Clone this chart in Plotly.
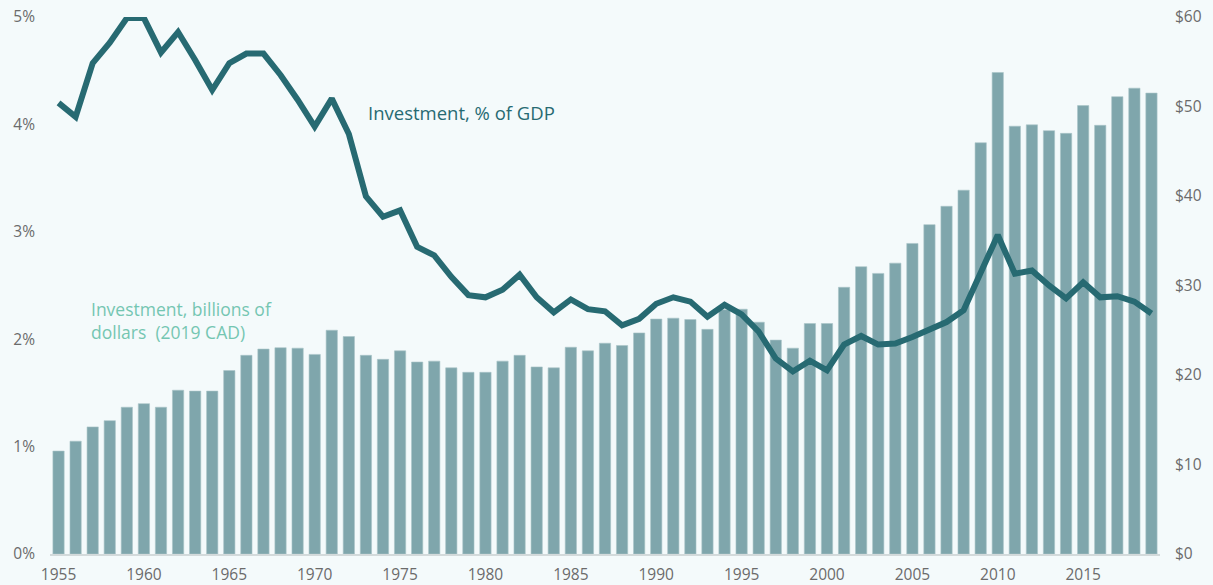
import plotly.graph_objects as go

years = list(range(1955, 2020))

invest_bn = [11.5, 12.6, 14.2, 14.9, 16.4, 16.8, 16.4, 18.3, 18.2, 18.2,
             20.5, 22.2, 22.9, 23.05, 23.0, 22.3, 25.0, 24.3, 22.2, 21.75,
             22.7, 21.45, 21.55, 20.8, 20.3, 20.3, 21.55, 22.2, 20.9, 20.8,
             23.1, 22.7, 23.55, 23.3, 24.7, 26.25, 26.35, 26.2, 25.1, 27.3,
             27.35, 25.9, 23.9, 23.0, 25.75, 25.75, 29.8, 32.1, 31.35, 32.5,
             34.7, 36.8, 38.85, 40.65, 45.95, 53.8, 47.8, 47.95, 47.3, 47.0,
             50.1, 47.9, 51.1, 52.05, 51.5]

invest_pct = [4.20, 4.07, 4.57, 4.76, 4.99, 4.99, 4.67, 4.86, 4.60, 4.32,
              4.57, 4.66, 4.66, 4.46, 4.23, 3.98, 4.24, 3.91, 3.33, 3.14,
              3.20, 2.86, 2.78, 2.58, 2.41, 2.39, 2.46, 2.60, 2.39, 2.25,
              2.37, 2.28, 2.26, 2.13, 2.19, 2.33, 2.39, 2.35, 2.21, 2.32,
              2.23, 2.07, 1.82, 1.70, 1.80, 1.71, 1.95, 2.03, 1.95, 1.96,
              2.02, 2.09, 2.16, 2.27, 2.62, 2.97, 2.61, 2.64, 2.50, 2.38,
              2.53, 2.39, 2.40, 2.35, 2.24]

pct_ticks = [0, 1, 2, 3, 4, 5]
pct_labels = ["0%", "1%", "2%", "3%", "4%", "5%"]
usd_ticks = [0, 10, 20, 30, 40, 50, 60]
usd_labels = ["$0", "$10", "$20", "$30", "$40", "$50", "$60"]
x_ticks = [1955, 1960, 1965, 1970, 1975, 1980, 1985, 1990, 1995, 2000, 2005, 2010, 2015]

BG = "#f4fafb"
BAR = "#7fa6ac"
LINE = "#276a72"
LIGHT = "#74c6b2"
GRAY = "#6b6b6b"
FONT = "Open Sans"

fig = go.Figure()
# bars on the primary (right-side, $) axis so the overlaying % line is drawn on top
fig.add_trace(go.Bar(x=years, y=invest_bn, yaxis="y", width=0.66,
                     marker=dict(color=BAR, line=dict(color="#a9c4c8", width=0.6)),
                     name="Investment, billions of dollars (2019 CAD)"))
fig.add_trace(go.Scatter(x=years, y=invest_pct, yaxis="y2", mode="lines",
                         line=dict(color=LINE, width=6), name="Investment, % of GDP"))

fig.update_layout(
    width=1213, height=585,
    margin=dict(l=50, r=53, t=17, b=31, autoexpand=False),
    paper_bgcolor=BG, plot_bgcolor=BG,
    showlegend=False,
    font=dict(family=FONT, color=GRAY, size=15),
    xaxis=dict(range=[1954.5, 2019.5], tickvals=x_ticks, showgrid=False, automargin=False,
               showline=True, linecolor="#d3dadb", linewidth=1.5, zeroline=False,
               ticks="", ticklabelstandoff=6, tickfont=dict(size=15.5, color=GRAY)),
    yaxis=dict(range=[0, 60], tickvals=usd_ticks, ticktext=usd_labels, showgrid=False,
               zeroline=False, showline=False, ticks="", side="right", automargin=False,
               ticklabelstandoff=14, tickfont=dict(size=15.5, color=GRAY)),
    yaxis2=dict(range=[0, 5], tickvals=pct_ticks, ticktext=pct_labels, showgrid=False,
                zeroline=False, showline=False, ticks="", overlaying="y", side="left",
                automargin=False, ticklabelstandoff=14, tickfont=dict(size=15.5, color=GRAY)),
    bargap=0.3,
)

fig.add_annotation(x=1973.0, y=4.11, xref="x", yref="y2", text="Investment, % of GDP",
                   showarrow=False, xanchor="left", yanchor="middle",
                   font=dict(family=FONT, size=18.5, color=LINE))
fig.add_annotation(x=1956.8, y=2.17, xref="x", yref="y2",
                   text="Investment, billions of<br>dollars  (2019 CAD)",
                   showarrow=False, xanchor="left", yanchor="middle", align="left",
                   font=dict(family=FONT, size=17.5, color=LIGHT))

fig.write_html(
    "out.html",
    config={"displayModeBar": False},
    post_script="document.body.style.margin='0px';document.body.style.overflow='hidden';"
                "document.body.style.background='#f4fafb';",
)
